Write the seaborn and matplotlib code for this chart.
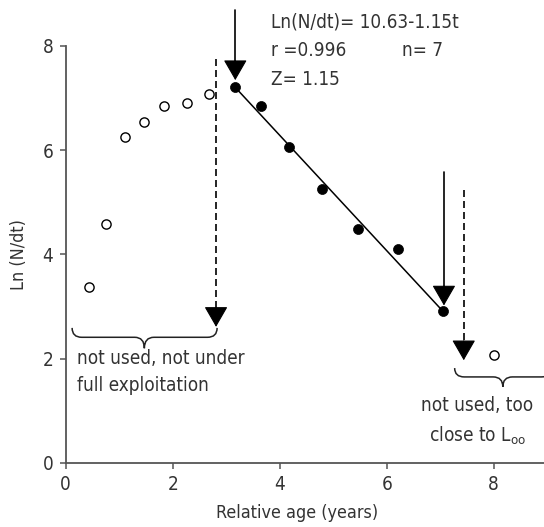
import matplotlib
matplotlib.use("Agg")
import matplotlib.pyplot as plt
from matplotlib.path import Path
from matplotlib.patches import PathPatch
import numpy as np
import pandas as pd
import seaborn as sns

# ---- data ----
open_age = [0.44, 0.75, 1.11, 1.46, 1.84, 2.27, 2.68, 8.00]
open_ln = [3.37, 4.58, 6.25, 6.53, 6.84, 6.90, 7.07, 2.07]
used_age = [3.17, 3.65, 4.17, 4.79, 5.46, 6.21, 7.05]
used_ln = [7.20, 6.84, 6.05, 5.25, 4.48, 4.10, 2.91]
x_ticks = [0, 2, 4, 6, 8]
y_ticks = [0, 2, 4, 6, 8]
eq_lines = ["Ln(N/dt)= 10.63-1.15t", "r =0.996", "Z= 1.15"]
n_label = "n= 7"
left_note = "not used, not under\nfull exploitation"
right_note = "not used, too\nclose to L$_{\\mathrm{oo}}$"

sns.set_theme(style="ticks")
TXT = "#333333"
plt.rcParams["font.family"] = ["DejaVu Sans"]
plt.rcParams["font.stretch"] = "condensed"
plt.rcParams["mathtext.fontset"] = "dejavusans"

FS = 13.6
fig = plt.figure(figsize=(5.44, 5.27), dpi=100)
ax = fig.add_axes([65.7 / 544, (527 - 463) / 527, 1 - 65.7 / 544, (463 - 45.7) / 527])

df_open = pd.DataFrame({"age": open_age, "ln": open_ln})
df_used = pd.DataFrame({"age": used_age, "ln": used_ln})
df_line = df_used.iloc[[0, -1]]

sns.lineplot(data=df_line, x="age", y="ln", ax=ax, color="black", lw=1.1)
sns.scatterplot(data=df_open, x="age", y="ln", ax=ax, marker="o", s=44,
                facecolor="white", edgecolor="black", linewidth=1.0, zorder=3)
sns.scatterplot(data=df_used, x="age", y="ln", ax=ax, marker="o", s=52,
                color="black", edgecolor="black", linewidth=0.5, zorder=3)

ax.set_xlim(0, 8.94)
ax.set_ylim(0, 8)
ax.set_xticks(x_ticks)
ax.set_yticks(y_ticks)
ax.set_xticklabels([str(v) for v in x_ticks])
ax.set_yticklabels([str(v) for v in y_ticks])
for s in ["top", "right"]:
    ax.spines[s].set_visible(False)
for s in ["left", "bottom"]:
    ax.spines[s].set_color("#555555")
    ax.spines[s].set_linewidth(1.3)
ax.tick_params(direction="out", length=4, width=1.1, color="#555555",
               labelsize=FS, labelcolor=TXT, pad=5)
ax.set_xlabel("Relative age (years)", fontsize=FS * 0.95, color=TXT)
ax.set_ylabel("Ln (N/dt)", fontsize=FS * 0.95, color=TXT)
ax.xaxis.set_label_coords(0.484, -0.098)
ax.yaxis.set_label_coords(-0.078, 0.5)


def arrow(x, y0, y1, dashed):
    ls = (0, (4.2, 2.4)) if dashed else "-"
    ax.plot([x, x], [y0, y1 + 0.2], color="black", lw=1.2, ls=ls, clip_on=False)
    ax.annotate("", xy=(x, y1), xytext=(0, 14), textcoords="offset points",
                arrowprops=dict(arrowstyle="-|>,head_length=13,head_width=7.5",
                                mutation_scale=1, color="black", lw=0.8,
                                shrinkA=0, shrinkB=0),
                annotation_clip=False)


arrow(3.17, 8.68, 7.34, False)
arrow(2.81, 7.74, 2.61, True)
arrow(7.07, 5.57, 3.02, False)
arrow(7.44, 5.23, 1.97, True)


def brace(x0, x1, ytop, yline, ytip, xm, curl):
    verts = [(x0, ytop), (x0, yline), (x0 + curl, yline),
             (xm - curl, yline), (xm, yline), (xm, ytip),
             (xm, yline), (xm + curl, yline),
             (x1 - curl, yline), (x1, yline), (x1, ytop)]
    codes = [Path.MOVETO, Path.CURVE3, Path.CURVE3,
             Path.LINETO, Path.CURVE3, Path.CURVE3,
             Path.CURVE3, Path.CURVE3,
             Path.LINETO, Path.CURVE3, Path.CURVE3]
    ax.add_patch(PathPatch(Path(verts, codes), fc="none", ec="#222222", lw=1.1,
                           clip_on=False))


brace(0.12, 2.83, 2.59, 2.41, 2.20, 1.47, 0.18)
brace(7.27, 9.07, 1.82, 1.65, 1.46, 8.17, 0.18)

ax.text(0.21, 1.74, left_note, fontsize=FS, color=TXT, ha="left", va="center",
        linespacing=1.55)
ax.text(7.69, 0.80, right_note, fontsize=FS, color=TXT, ha="center", va="center",
        linespacing=1.55, multialignment="center")

for txt, yv in zip(eq_lines, [8.45, 7.91, 7.36]):
    ax.text(3.84, yv, txt, fontsize=FS, color=TXT, ha="left", va="center", clip_on=False)
ax.text(6.29, 7.91, n_label, fontsize=FS, color=TXT, ha="left", va="center")

fig.savefig("out.png", dpi=100)
